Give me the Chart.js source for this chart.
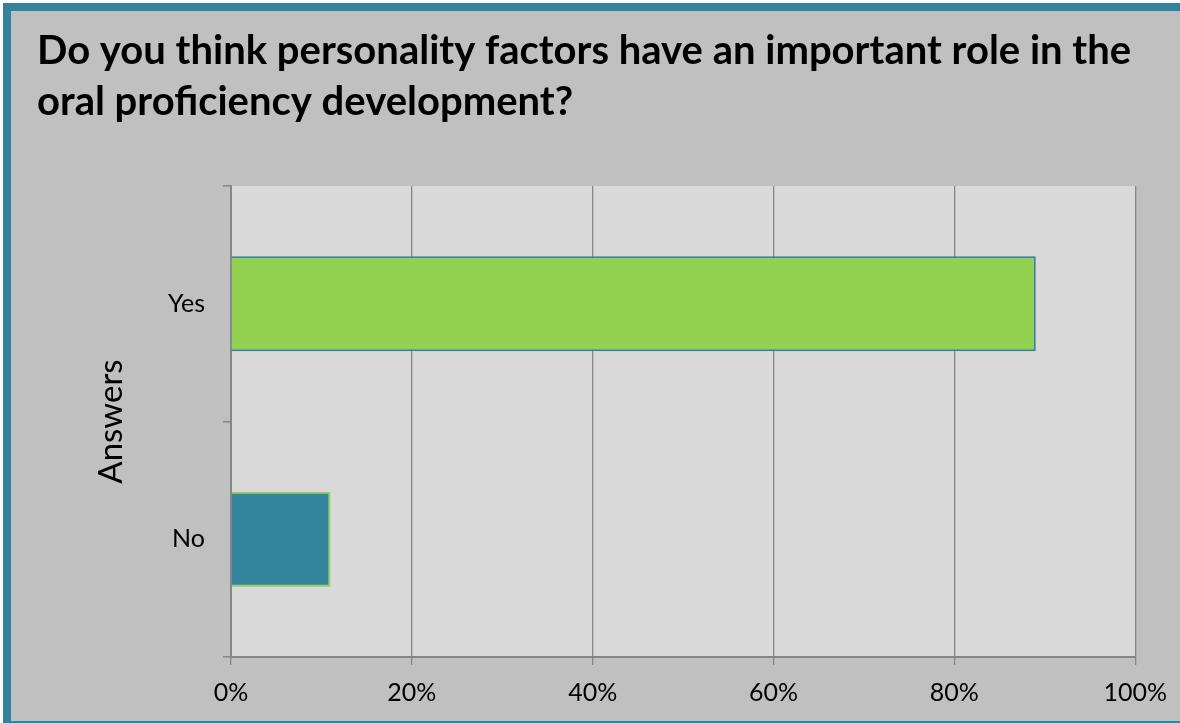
<!DOCTYPE html>
<html>
<head>
<meta charset="utf-8">
<script src="https://cdn.jsdelivr.net/npm/chart.js@4.4.1/dist/chart.umd.min.js"></script>
<style>
  html, body { margin: 0; padding: 0; width: 1180px; height: 723px; overflow: hidden; background: #ffffff; }
  #frame {
    position: absolute; left: 3px; top: 3px;
    width: 1200px; height: 710px;
    border: 8px solid #31849B;
    background: #C0C0C0;
  }
  #wrap { position: absolute; left: 0; top: 0; width: 1180px; height: 723px; }
</style>
</head>
<body>
<div id="frame"></div>
<div id="wrap"><canvas id="chart" width="1180" height="723"></canvas></div>
<script>
// Survey answers (share of respondents, %)
const categories = ['Yes', 'No'];
const shares = [89, 11];
const barColors = ['#92D050', '#31849B'];
const barBorders = ['#31849B', '#92D050'];
const xTicks = [0, 20, 40, 60, 80, 100];
const titleLines = [
  'Do you think personality factors have an important role in the',
  'oral proficiency development?'
];
const axisTitle = 'Answers';

// Light grey fill behind the plot area
const plotBackground = {
  id: 'plotBackground',
  beforeDraw(chart) {
    const { ctx, chartArea: a } = chart;
    ctx.save();
    ctx.fillStyle = '#D9D9D9';
    ctx.fillRect(a.left, a.top, a.right - a.left, a.bottom - a.top);
    ctx.restore();
  }
};

const FONT = 'Lato, "Open Sans", sans-serif';

new Chart(document.getElementById('chart'), {
  type: 'bar',
  data: {
    labels: categories,
    datasets: [{
      data: shares,
      backgroundColor: barColors,
      borderColor: barBorders,
      borderWidth: 2,
      barPercentage: 0.403,
      categoryPercentage: 1
    }]
  },
  options: {
    indexAxis: 'y',
    responsive: false,
    animation: false,
    layout: { padding: { left: 37, right: 44, top: 0, bottom: 0 } },
    plugins: {
      legend: { display: false },
      tooltip: { enabled: false },
      title: {
        display: true,
        text: titleLines,
        align: 'start',
        color: '#000000',
        font: { family: FONT, size: 40, weight: 'bold', lineHeight: '51px' },
        padding: { top: 26, bottom: 58 }
      }
    },
    scales: {
      x: {
        min: 0, max: 100,
        afterBuildTicks(scale) { scale.ticks = xTicks.map(v => ({ value: v })); },
        afterFit(scale) { scale.height = 66; },
        ticks: {
          color: '#000000',
          font: { family: FONT, size: 25 },
          padding: 13,
          callback: v => v + '%'
        },
        grid: { color: '#868686', lineWidth: 1.3, tickLength: 8, drawTicks: true },
        border: { display: true, color: '#868686', width: 2 }
      },
      y: {
        afterFit(scale) { scale.width = 231 - 37; },
        ticks: {
          color: '#000000',
          font: { family: FONT, size: 25 },
          padding: 18
        },
        grid: { drawOnChartArea: false, color: '#868686', lineWidth: 1.5, tickLength: 8, offset: true },
        border: { display: true, color: '#868686', width: 2 },
        title: {
          display: true,
          text: axisTitle,
          color: '#000000',
          font: { family: FONT, size: 33 },
          padding: { top: 55, bottom: 0 }
        }
      }
    }
  },
  plugins: [plotBackground]
});
</script>
</body>
</html>
